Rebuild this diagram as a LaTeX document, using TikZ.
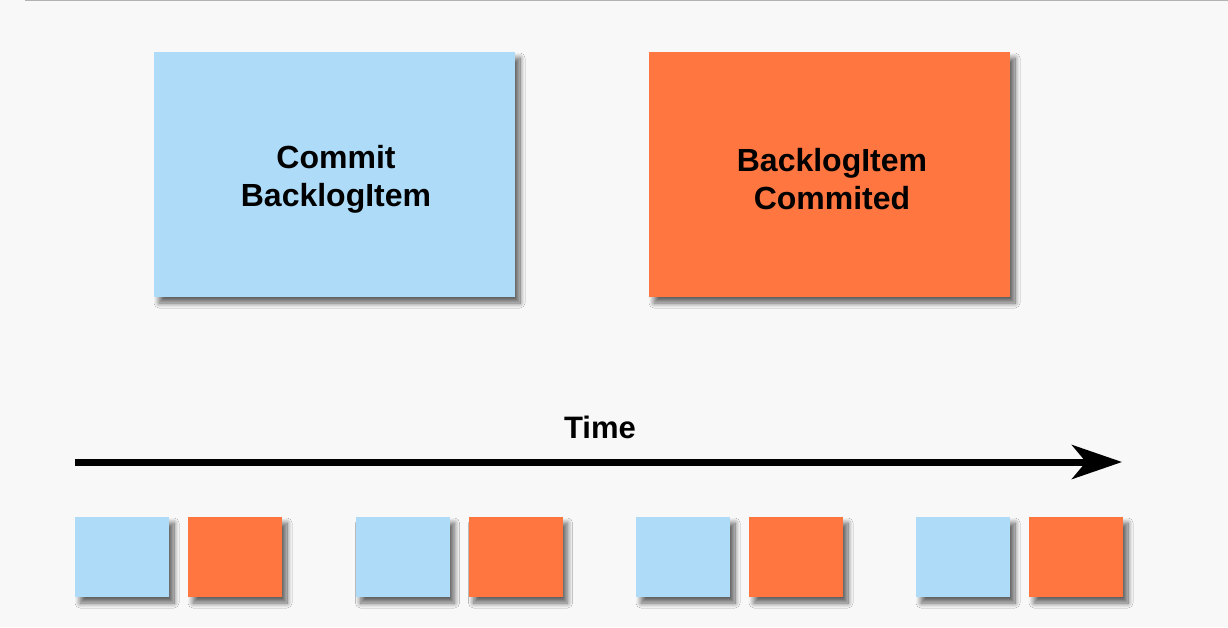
\documentclass[tikz,border=0pt]{standalone}
\usepackage{fontspec}
\setmainfont{Liberation Sans}
\usetikzlibrary{arrows.meta,shadows.blur}
\definecolor{bg}{HTML}{F8F8F8}
\definecolor{cmdblue}{HTML}{ADDBF8}
\definecolor{evtorange}{HTML}{FF7640}
\tikzset{
  shad/.style={blur shadow={shadow xshift=5pt, shadow yshift=-6pt, shadow blur steps=12, shadow blur radius=5pt, shadow opacity=60}},
  bigbox/.style={shad, minimum width=361pt, minimum height=245pt, inner sep=0pt},
  boxtext/.style={align=center, font=\fontsize{32}{38}\selectfont\bfseries, text=black, inner sep=0pt},
  smallbox/.style={shad, minimum width=94pt, minimum height=80pt, inner sep=0pt},
  cmd/.style={fill=cmdblue},
  evt/.style={fill=evtorange},
  lbl/.style={font=\fontsize{31}{36}\selectfont\bfseries, text=black},
}
\begin{document}
\begin{tikzpicture}[x=1pt,y=-1pt]
\fill[bg] (0,0) rectangle (1228,627);
\useasboundingbox (0,0) rectangle (1228,627);
\draw[line width=1.5pt, black!30] (25,0.5) -- (1228,0.5);
\node[bigbox, cmd] (c) at (334.5,174.5) {};
\node[bigbox, evt] (e) at (829.5,174.5) {};
\node[boxtext] (ct) at (336,179) {Commit\\BacklogItem};
\node[boxtext] (et) at (832,179) {BacklogItem\\Commited};
\node[lbl] (t) at (600,427) {Time};
\coordinate (a0) at (75,462);
\coordinate (a1) at (1122,462);
\draw[line width=7pt, -{Stealth[length=50pt, width=34pt, inset=14pt]}] (a0) -- (a1);
\foreach \i/\dx in {1/0,2/280.5,3/561,4/841}{
  \node[smallbox, cmd] (s\i c) at (122+\dx,557) {};
  \node[smallbox, evt] (s\i e) at (235+\dx,557) {};
}
\end{tikzpicture}
\end{document}
